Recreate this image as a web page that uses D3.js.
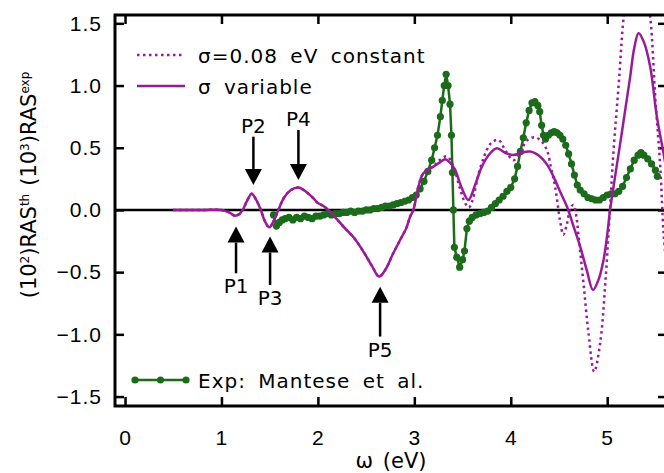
<!DOCTYPE html>
<html>
<head>
<meta charset="utf-8">
<script src="https://cdn.jsdelivr.net/npm/d3@7"></script>
<style>
  body { margin: 0; background: #fff; }
  svg { font-family: "DejaVu Sans", sans-serif; }
</style>
</head>
<body>
<svg id="ras-chart" width="664" height="473"></svg>
<script>
// Theory, sigma variable (solid)
const varOmega = [0.50, 0.80, 1.00, 1.08, 1.14, 1.19, 1.22, 1.27, 1.314, 1.36, 1.408, 1.45, 1.497, 1.54, 1.59, 1.65, 1.72, 1.80, 1.87, 1.953, 2.00, 2.057, 2.106, 2.18, 2.265, 2.37, 2.472, 2.56, 2.635, 2.70, 2.78, 2.853, 2.92, 2.956, 2.99, 3.04, 3.094, 3.198, 3.26, 3.32, 3.37, 3.423, 3.49, 3.561, 3.63, 3.70, 3.78, 3.856, 3.94, 4.028, 4.11, 4.201, 4.305, 4.38, 4.443, 4.51, 4.582, 4.65, 4.72, 4.79, 4.852, 4.91, 4.962, 5.00, 5.03, 5.08, 5.135, 5.19, 5.238, 5.28, 5.325, 5.38, 5.446, 5.515, 5.59, 5.62];
const varRas = [0, 0, 0, -0.02, -0.046, -0.03, 0, 0.08, 0.13, 0.08, 0, -0.09, -0.14, -0.09, 0, 0.10, 0.16, 0.18, 0.15, 0.094, 0.055, 0.032, 0, -0.06, -0.134, -0.22, -0.335, -0.45, -0.536, -0.48, -0.35, -0.241, -0.14, -0.054, 0, 0.18, 0.295, 0.348, 0.38, 0.408, 0.38, 0.322, 0.18, 0.08, 0.20, 0.348, 0.45, 0.496, 0.46, 0.442, 0.46, 0.469, 0.428, 0.36, 0.268, 0.15, 0.027, -0.13, -0.295, -0.49, -0.643, -0.56, -0.402, -0.2, 0, 0.26, 0.536, 0.82, 1.07, 1.30, 1.42, 1.35, 1.15, 0.75, 0.43, 0.28];

// Theory, sigma = 0.08 eV constant (dotted)
const constOmega = [0.50, 0.80, 1.00, 1.08, 1.14, 1.19, 1.22, 1.27, 1.314, 1.36, 1.408, 1.45, 1.497, 1.54, 1.59, 1.65, 1.72, 1.80, 1.87, 1.953, 2.00, 2.057, 2.106, 2.18, 2.265, 2.37, 2.472, 2.56, 2.635, 2.70, 2.78, 2.853, 2.92, 2.956, 2.99, 3.04, 3.094, 3.198, 3.26, 3.337, 3.40, 3.47, 3.53, 3.565, 3.60, 3.67, 3.75, 3.80, 3.873, 3.95, 4.03, 4.10, 4.17, 4.253, 4.32, 4.375, 4.42, 4.46, 4.51, 4.545, 4.58, 4.62, 4.65, 4.68, 4.70, 4.754, 4.806, 4.865, 4.927, 4.98, 5.024, 5.066, 5.12, 5.17, 5.23, 5.30, 5.37, 5.446, 5.50, 5.55, 5.585, 5.62];
const constRas = [0, 0, 0, -0.02, -0.046, -0.03, 0, 0.08, 0.13, 0.08, 0, -0.09, -0.14, -0.09, 0, 0.10, 0.16, 0.18, 0.15, 0.094, 0.055, 0.032, 0, -0.06, -0.134, -0.22, -0.335, -0.45, -0.536, -0.48, -0.35, -0.241, -0.14, -0.054, 0, 0.18, 0.295, 0.35, 0.40, 0.43, 0.36, 0.18, 0.05, 0.02, 0.07, 0.30, 0.48, 0.54, 0.563, 0.47, 0.40, 0.47, 0.56, 0.584, 0.55, 0.48, 0.33, 0.187, -0.08, -0.20, -0.12, 0.02, 0.04, -0.05, -0.19, -0.59, -0.99, -1.30, -1.07, -0.59, -0.054, 0.482, 1.02, 1.55, 1.95, 2.1, 1.95, 1.55, 0.884, 0.348, -0.19, -0.5];

// Experiment (Mantese et al.)
const expOmega = [1.54, 1.57, 1.60, 1.63, 1.66, 1.70, 1.74, 1.78, 1.82, 1.86, 1.90, 1.94, 1.98, 2.02, 2.06, 2.10, 2.14, 2.18, 2.22, 2.26, 2.30, 2.34, 2.38, 2.42, 2.46, 2.50, 2.54, 2.58, 2.62, 2.66, 2.70, 2.74, 2.78, 2.82, 2.86, 2.90, 2.94, 2.98, 3.02, 3.06, 3.10, 3.14, 3.18, 3.21, 3.24, 3.27, 3.29, 3.31, 3.33, 3.35, 3.37, 3.385, 3.395, 3.405, 3.415, 3.44, 3.47, 3.50, 3.52, 3.545, 3.57, 3.60, 3.64, 3.68, 3.72, 3.76, 3.80, 3.84, 3.88, 3.92, 3.96, 4.00, 4.04, 4.07, 4.10, 4.13, 4.16, 4.19, 4.22, 4.25, 4.28, 4.30, 4.32, 4.34, 4.36, 4.39, 4.42, 4.45, 4.48, 4.51, 4.54, 4.57, 4.60, 4.63, 4.66, 4.69, 4.72, 4.76, 4.80, 4.84, 4.88, 4.92, 4.96, 5.00, 5.04, 5.08, 5.12, 5.16, 5.20, 5.24, 5.28, 5.32, 5.35, 5.38, 5.42, 5.46, 5.50, 5.52];
const expRas = [-0.04, -0.13, -0.10, -0.08, -0.07, -0.06, -0.08, -0.06, -0.07, -0.05, -0.06, -0.07, -0.05, -0.05, -0.04, -0.03, -0.04, -0.03, -0.03, -0.02, -0.02, -0.01, -0.02, -0.01, -0.01, 0.00, 0.00, 0.01, 0.01, 0.02, 0.03, 0.03, 0.04, 0.05, 0.06, 0.07, 0.08, 0.10, 0.12, 0.17, 0.23, 0.31, 0.40, 0.50, 0.60, 0.75, 0.88, 1.00, 1.09, 1.00, 0.85, 0.60, 0.30, 0.00, -0.30, -0.38, -0.46, -0.40, -0.33, -0.15, -0.09, -0.06, -0.04, -0.03, -0.02, -0.01, 0.02, 0.05, 0.08, 0.11, 0.15, 0.18, 0.25, 0.35, 0.47, 0.58, 0.70, 0.80, 0.86, 0.87, 0.84, 0.79, 0.68, 0.60, 0.57, 0.60, 0.62, 0.63, 0.62, 0.60, 0.57, 0.52, 0.45, 0.37, 0.28, 0.20, 0.16, 0.13, 0.10, 0.09, 0.08, 0.08, 0.10, 0.12, 0.13, 0.13, 0.15, 0.19, 0.26, 0.33, 0.40, 0.44, 0.46, 0.44, 0.41, 0.37, 0.32, 0.27];

// Peak markers: name, energy, arrow tip, arrow tail
const peakNames = ["P1", "P2", "P3", "P4", "P5"];
const peakOmega = [1.151, 1.331, 1.504, 1.798, 2.645];
const peakTip = [-0.134, 0.201, -0.214, 0.241, -0.617];
const peakTail = [-0.509, 0.589, -0.603, 0.643, -1.018];

const xTicks = [0, 1, 2, 3, 4, 5];
const yTicks = [-1.5, -1.0, -0.5, 0.0, 0.5, 1.0, 1.5];

const purple = "#9a1b9a";
const green = "#1b6b1b";

const svg = d3.select("#ras-chart");
const box = { left: 115, right: 667, top: 15, bottom: 406 };

const x = d3.scaleLinear().domain([-0.104, 5.62]).range([box.left, box.right]);
const y = d3.scaleLinear().domain([-1.576, 1.567]).range([box.bottom, box.top]);

svg.append("defs").append("clipPath").attr("id", "plot-clip")
  .append("rect")
  .attr("x", box.left).attr("y", box.top)
  .attr("width", box.right - box.left).attr("height", box.bottom - box.top);

// axes, ticks pointing inward
const tickLen = 9;

const xAxisB = g => g.attr("transform", `translate(0,${box.bottom})`)
  .call(d3.axisBottom(x).tickValues(xTicks).tickSize(-tickLen).tickSizeOuter(0)
    .tickPadding(24).tickFormat(d3.format("d")));
const xAxisT = g => g.attr("transform", `translate(0,${box.top})`)
  .call(d3.axisTop(x).tickValues(xTicks).tickSize(-tickLen).tickSizeOuter(0).tickFormat(""));
const yAxisL = g => g.attr("transform", `translate(${box.left},0)`)
  .call(d3.axisLeft(y).tickValues(yTicks).tickSize(-tickLen).tickSizeOuter(0)
    .tickPadding(13).tickFormat(d3.format(".1f")));
const yAxisR = g => g.attr("transform", `translate(${box.right},0)`)
  .call(d3.axisRight(y).tickValues(yTicks).tickSize(-tickLen).tickSizeOuter(0).tickFormat(""));

[xAxisB, xAxisT, yAxisL, yAxisR].forEach(a => {
  const g = svg.append("g").call(a);
  g.select(".domain").remove();
  g.selectAll("line").attr("stroke", "#000").attr("stroke-width", 2.5);
  g.selectAll("text").attr("fill", "#000").style("font-size", "21px")
    .style("letter-spacing", "1px");
});

// zero line
svg.append("line")
  .attr("x1", box.left).attr("x2", box.right)
  .attr("y1", y(0)).attr("y2", y(0))
  .attr("stroke", "#000").attr("stroke-width", 2.5);

const plot = svg.append("g").attr("clip-path", "url(#plot-clip)");

const line = d3.line()
  .x(d => x(d[0]))
  .y(d => y(d[1]))
  .curve(d3.curveCatmullRom.alpha(0.5));

const expData = d3.zip(expOmega, expRas);

plot.append("path")
  .datum(expData)
  .attr("d", d3.line().x(d => x(d[0])).y(d => y(d[1])))
  .attr("fill", "none").attr("stroke", green).attr("stroke-width", 2.5);

plot.selectAll(".exp-dot")
  .data(expData)
  .enter().append("circle")
  .attr("class", "exp-dot")
  .attr("cx", d => x(d[0])).attr("cy", d => y(d[1]))
  .attr("r", 3.6).attr("fill", green);

plot.append("path")
  .datum(d3.zip(constOmega, constRas))
  .attr("d", line)
  .attr("fill", "none").attr("stroke", purple).attr("stroke-width", 2.5)
  .attr("stroke-dasharray", "2.5 3.5");

plot.append("path")
  .datum(d3.zip(varOmega, varRas))
  .attr("d", line)
  .attr("fill", "none").attr("stroke", purple).attr("stroke-width", 2.5);

// frame
svg.append("rect")
  .attr("x", box.left).attr("y", box.top)
  .attr("width", box.right - box.left).attr("height", box.bottom - box.top)
  .attr("fill", "none").attr("stroke", "#000").attr("stroke-width", 3);

// peak arrows
const head = 16, headW = 8.5;
peakNames.forEach((name, i) => {
  const px = x(peakOmega[i]);
  const tip = y(peakTip[i]);
  const tail = y(peakTail[i]);
  const dir = tail > tip ? 1 : -1; // 1: arrow points up
  svg.append("line")
    .attr("x1", px).attr("x2", px)
    .attr("y1", tail).attr("y2", tip + dir * head)
    .attr("stroke", "#000").attr("stroke-width", 2.5);
  svg.append("path")
    .attr("d", `M${px},${tip} L${px - headW},${tip + dir * head} L${px + headW},${tip + dir * head} Z`)
    .attr("fill", "#000");
  svg.append("text")
    .attr("x", px)
    .attr("y", dir > 0 ? tail + 20 : tail - 4)
    .attr("text-anchor", "middle")
    .style("font-size", "20px")
    .text(name);
});

// legend
const lg = svg.append("g")
  .style("font-size", "20px")
  .style("letter-spacing", "1px")
  .style("word-spacing", "5px");
lg.append("line").attr("x1", 137).attr("x2", 182).attr("y1", 55).attr("y2", 55)
  .attr("stroke", purple).attr("stroke-width", 2.5).attr("stroke-dasharray", "2.5 3.5");
lg.append("text").attr("x", 198).attr("y", 63).text("σ=0.08 eV constant");
lg.append("line").attr("x1", 137).attr("x2", 185).attr("y1", 86).attr("y2", 86)
  .attr("stroke", purple).attr("stroke-width", 2.5);
lg.append("text").attr("x", 198).attr("y", 94).text("σ variable");

lg.append("line").attr("x1", 135).attr("x2", 186).attr("y1", 380).attr("y2", 380)
  .attr("stroke", green).attr("stroke-width", 2.5);
lg.selectAll(".leg-dot").data([135, 160.5, 186]).enter().append("circle")
  .attr("cx", d => d).attr("cy", 380).attr("r", 3.6).attr("fill", green);
lg.append("text").attr("x", 198).attr("y", 388).text("Exp: Mantese et al.");

// axis titles
svg.append("text")
  .attr("x", (box.left + box.right) / 2).attr("y", 468)
  .attr("text-anchor", "middle")
  .style("font-size", "21px")
  .style("word-spacing", "3px")
  .text("ω (eV)");

const yt = svg.append("text")
  .attr("transform", "translate(36,185) rotate(-90)")
  .attr("text-anchor", "middle")
  .style("font-size", "21px");
yt.append("tspan").text("(10");
yt.append("tspan").attr("dy", -7).style("font-size", "12px").text("2");
yt.append("tspan").attr("dy", 7).text(")RAS");
yt.append("tspan").attr("dy", -7).style("font-size", "12px").text("th");
yt.append("tspan").attr("dy", 7).attr("dx", 8).text("(10");
yt.append("tspan").attr("dy", -7).style("font-size", "12px").text("3");
yt.append("tspan").attr("dy", 7).text(")RAS");
yt.append("tspan").attr("dy", -7).style("font-size", "12px").text("exp");
</script>
</body>
</html>
